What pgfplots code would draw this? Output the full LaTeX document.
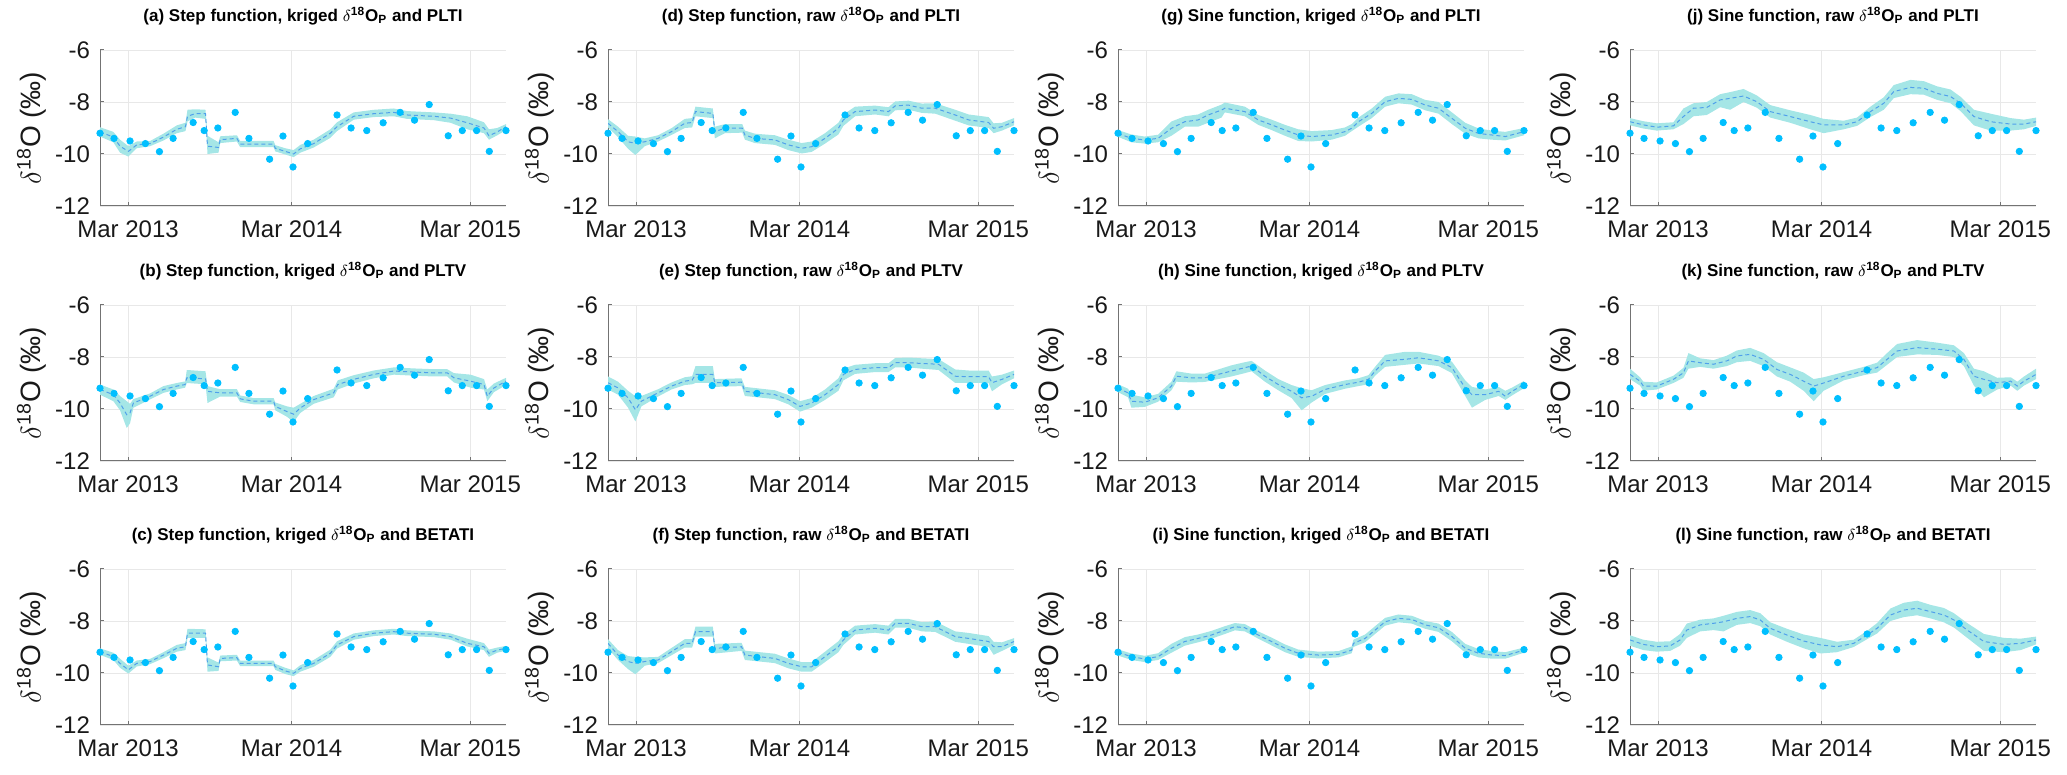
\documentclass[border=0pt]{standalone}
\usepackage{fontspec}
\setmainfont{Liberation Sans}
\usepackage{pgfplots}
\usepackage{pgfplotstable}
\pgfplotsset{compat=1.18}
\usepgfplotslibrary{fillbetween}

\definecolor{bandcyan}{RGB}{165,230,230}
\definecolor{meanblue}{RGB}{80,160,235}
\definecolor{obsblue}{RGB}{0,191,255}

% observed values, x in plot units (Mar 2013 = 84, Mar 2014 = 574, Mar 2015 = 1109)
\pgfplotstableread{
x y
0 -9.20
42 -9.40
90 -9.50
136 -9.60
178 -9.91
219 -9.40
279 -8.79
312 -9.10
353 -9.00
405 -8.40
446 -9.40
508 -10.20
548 -9.31
578 -10.50
622 -9.60
710 -8.50
752 -9.00
799 -9.10
848 -8.80
899 -8.40
942 -8.70
986 -8.10
1043 -9.30
1085 -9.10
1128 -9.10
1166 -9.90
1216 -9.10
}\obs

% model runs: mean, lower and upper band
\pgfplotstableread{
x m lo hi
0 -9.15 -9.33 -8.97
40 -9.35 -9.55 -9.15
60 -9.70 -9.95 -9.45
85 -9.90 -10.10 -9.70
110 -9.65 -9.78 -9.52
150 -9.60 -9.70 -9.50
190 -9.35 -9.48 -9.22
230 -9.05 -9.20 -8.90
256 -8.95 -9.12 -8.80
262 -8.55 -8.75 -8.30
285 -8.45 -8.60 -8.28
316 -8.45 -8.65 -8.30
322 -9.70 -10.00 -9.30
355 -9.75 -9.95 -9.55
360 -9.45 -9.58 -9.32
410 -9.40 -9.52 -9.28
420 -9.62 -9.74 -9.50
520 -9.62 -9.74 -9.50
525 -9.78 -9.90 -9.66
555 -9.90 -10.02 -9.78
580 -10.00 -10.12 -9.85
600 -9.80 -9.95 -9.65
640 -9.60 -9.75 -9.45
690 -9.20 -9.38 -9.05
710 -8.95 -9.12 -8.78
760 -8.55 -8.68 -8.40
820 -8.45 -8.58 -8.30
880 -8.40 -8.55 -8.25
920 -8.50 -8.65 -8.35
1000 -8.55 -8.70 -8.40
1050 -8.62 -8.80 -8.45
1100 -8.80 -9.05 -8.55
1150 -9.00 -9.20 -8.78
1165 -9.30 -9.45 -9.05
1190 -9.15 -9.28 -9.00
1216 -8.95 -9.08 -8.85
}\tabA

\pgfplotstableread{
x m lo hi
0 -9.25 -9.45 -9.06
40 -9.45 -9.70 -9.25
60 -9.77 -10.05 -9.50
80 -10.22 -10.73 -9.70
90 -10.15 -10.55 -9.80
100 -9.77 -9.95 -9.62
150 -9.51 -9.63 -9.40
190 -9.25 -9.38 -9.12
230 -9.12 -9.25 -9.00
255 -9.06 -9.18 -8.94
260 -8.80 -9.00 -8.50
316 -8.84 -9.05 -8.55
322 -9.32 -9.77 -9.12
360 -9.38 -9.52 -9.24
410 -9.38 -9.52 -9.24
420 -9.61 -9.73 -9.48
460 -9.70 -9.82 -9.58
520 -9.70 -9.82 -9.58
525 -9.90 -10.05 -9.75
560 -10.10 -10.30 -9.90
580 -10.20 -10.50 -9.95
600 -9.96 -10.15 -9.80
640 -9.64 -9.80 -9.50
700 -9.38 -9.55 -9.22
712 -9.06 -9.25 -8.90
760 -8.86 -9.02 -8.70
820 -8.67 -8.82 -8.52
880 -8.54 -8.68 -8.40
940 -8.58 -8.72 -8.44
1000 -8.61 -8.75 -8.47
1040 -8.61 -8.75 -8.47
1060 -8.80 -8.98 -8.62
1110 -8.93 -9.18 -8.68
1150 -9.06 -9.25 -8.85
1160 -9.51 -9.70 -9.25
1180 -9.19 -9.35 -9.02
1216 -8.93 -9.08 -8.80
}\tabB

\pgfplotstableread{
x m lo hi
0 -9.18 -9.30 -9.05
40 -9.37 -9.50 -9.22
60 -9.63 -9.80 -9.45
85 -9.88 -10.02 -9.72
110 -9.63 -9.75 -9.52
150 -9.56 -9.66 -9.46
190 -9.31 -9.43 -9.20
230 -9.05 -9.18 -8.92
256 -8.99 -9.12 -8.85
262 -8.47 -8.65 -8.30
316 -8.47 -8.65 -8.32
322 -9.69 -9.95 -9.40
355 -9.76 -9.92 -9.60
360 -9.44 -9.55 -9.33
410 -9.41 -9.52 -9.30
420 -9.63 -9.74 -9.52
520 -9.63 -9.74 -9.52
525 -9.76 -9.88 -9.65
555 -9.92 -10.04 -9.80
580 -10.01 -10.12 -9.90
600 -9.82 -9.95 -9.70
640 -9.63 -9.76 -9.50
690 -9.24 -9.38 -9.10
710 -8.92 -9.06 -8.78
760 -8.60 -8.72 -8.48
820 -8.47 -8.58 -8.36
880 -8.41 -8.52 -8.30
920 -8.47 -8.58 -8.36
1000 -8.51 -8.62 -8.40
1050 -8.60 -8.72 -8.48
1100 -8.86 -8.98 -8.68
1150 -8.99 -9.12 -8.85
1165 -9.24 -9.38 -9.10
1190 -9.12 -9.22 -9.02
1216 -9.05 -9.14 -8.96
}\tabC

\pgfplotstableread{
x m lo hi
0 -8.82 -8.98 -8.66
30 -9.14 -9.35 -8.95
60 -9.53 -9.80 -9.30
82 -9.59 -10.04 -9.33
110 -9.53 -9.70 -9.40
150 -9.40 -9.52 -9.28
190 -9.14 -9.27 -9.01
230 -8.82 -9.00 -8.65
252 -8.79 -8.98 -8.62
262 -8.37 -8.55 -8.18
314 -8.44 -8.62 -8.25
320 -9.14 -9.40 -8.95
350 -9.01 -9.20 -8.85
402 -9.01 -9.18 -8.85
410 -9.27 -9.45 -9.10
440 -9.40 -9.58 -9.22
500 -9.46 -9.65 -9.28
540 -9.65 -9.85 -9.45
580 -9.78 -9.98 -9.58
610 -9.72 -9.92 -9.52
650 -9.40 -9.60 -9.20
690 -9.01 -9.25 -8.80
705 -8.69 -8.92 -8.48
740 -8.37 -8.55 -8.18
800 -8.31 -8.48 -8.14
840 -8.37 -8.55 -8.20
860 -8.15 -8.32 -7.98
900 -8.12 -8.30 -7.95
940 -8.24 -8.42 -8.06
980 -8.24 -8.45 -8.05
1040 -8.50 -8.72 -8.30
1080 -8.69 -8.90 -8.48
1140 -8.79 -9.00 -8.58
1155 -9.01 -9.20 -8.82
1180 -8.95 -9.10 -8.80
1216 -8.76 -8.90 -8.62
}\tabD

\pgfplotstableread{
x m lo hi
0 -8.99 -9.25 -8.75
30 -9.19 -9.45 -8.95
60 -9.57 -9.95 -9.30
82 -10.03 -10.48 -9.51
100 -9.70 -9.90 -9.50
150 -9.38 -9.52 -9.24
190 -9.12 -9.25 -8.98
230 -8.93 -9.08 -8.78
252 -8.89 -9.05 -8.74
262 -8.67 -9.00 -8.35
314 -8.67 -9.00 -8.35
320 -8.99 -9.15 -8.85
400 -8.97 -9.12 -8.82
410 -9.32 -9.50 -9.15
500 -9.45 -9.62 -9.28
540 -9.64 -9.82 -9.46
575 -9.90 -10.10 -9.70
610 -9.77 -9.95 -9.58
650 -9.45 -9.65 -9.25
690 -9.06 -9.30 -8.82
705 -8.67 -8.90 -8.45
740 -8.48 -8.65 -8.30
800 -8.41 -8.58 -8.24
840 -8.41 -8.58 -8.24
860 -8.22 -8.40 -8.04
900 -8.22 -8.40 -8.02
940 -8.25 -8.45 -8.05
990 -8.28 -8.50 -8.08
1040 -8.74 -9.00 -8.48
1080 -8.76 -9.00 -8.52
1140 -8.76 -9.00 -8.52
1150 -8.99 -9.32 -8.75
1180 -8.86 -9.05 -8.68
1216 -8.67 -8.82 -8.52
}\tabE

\pgfplotstableread{
x m lo hi
0 -8.86 -9.05 -8.70
30 -9.31 -9.50 -9.12
60 -9.56 -9.85 -9.35
82 -9.63 -10.05 -9.38
110 -9.56 -9.72 -9.40
150 -9.50 -9.62 -9.38
190 -9.18 -9.32 -9.04
230 -8.86 -9.02 -8.70
252 -8.86 -9.02 -8.70
262 -8.41 -8.60 -8.22
314 -8.41 -8.60 -8.22
320 -9.05 -9.25 -8.88
400 -8.99 -9.15 -8.84
410 -9.31 -9.50 -9.14
500 -9.44 -9.62 -9.26
540 -9.63 -9.82 -9.44
580 -9.76 -9.95 -9.58
610 -9.76 -9.95 -9.58
650 -9.37 -9.58 -9.18
690 -8.99 -9.20 -8.78
705 -8.73 -8.92 -8.52
740 -8.35 -8.52 -8.18
800 -8.28 -8.45 -8.12
840 -8.35 -8.52 -8.18
860 -8.09 -8.26 -7.92
900 -8.09 -8.26 -7.92
940 -8.22 -8.40 -8.04
980 -8.22 -8.42 -8.02
1040 -8.60 -8.80 -8.40
1080 -8.67 -8.88 -8.46
1140 -8.79 -9.00 -8.58
1155 -8.99 -9.30 -8.80
1180 -8.99 -9.15 -8.82
1216 -8.79 -8.92 -8.66
}\tabF

\pgfplotstableread{
x m lo hi
0 -9.21 -9.34 -9.08
40 -9.40 -9.55 -9.25
80 -9.46 -9.60 -9.33
120 -9.40 -9.55 -9.26
160 -9.01 -9.30 -8.75
200 -8.76 -8.95 -8.55
240 -8.69 -8.95 -8.48
270 -8.50 -8.80 -8.30
310 -8.31 -8.60 -8.10
320 -8.24 -8.40 -8.02
380 -8.37 -8.55 -8.18
420 -8.69 -8.88 -8.50
460 -8.88 -9.08 -8.68
500 -9.08 -9.30 -8.88
540 -9.27 -9.50 -9.05
580 -9.33 -9.52 -9.12
640 -9.27 -9.45 -9.08
680 -9.14 -9.30 -8.98
700 -9.01 -9.12 -8.85
720 -8.76 -8.95 -8.60
760 -8.44 -8.62 -8.25
800 -7.99 -8.18 -7.80
840 -7.86 -8.05 -7.67
880 -7.90 -8.10 -7.70
920 -8.12 -8.32 -7.92
960 -8.24 -8.45 -8.00
1000 -8.63 -8.85 -8.40
1040 -9.01 -9.22 -8.80
1080 -9.21 -9.40 -9.02
1120 -9.27 -9.45 -9.10
1160 -9.33 -9.48 -9.15
1216 -9.14 -9.28 -9.00
}\tabG

\pgfplotstableread{
x m lo hi
0 -9.19 -9.35 -9.05
30 -9.38 -9.55 -9.22
40 -9.70 -9.95 -9.45
80 -9.74 -9.92 -9.55
120 -9.57 -9.72 -9.42
160 -9.12 -9.28 -8.95
175 -8.74 -8.95 -8.55
220 -8.80 -8.98 -8.64
260 -8.80 -8.96 -8.64
300 -8.67 -8.85 -8.48
340 -8.54 -8.75 -8.32
380 -8.41 -8.62 -8.20
400 -8.35 -8.55 -8.15
440 -8.74 -8.95 -8.52
480 -9.06 -9.28 -8.85
520 -9.32 -9.58 -9.08
550 -9.57 -10.05 -9.20
580 -9.51 -9.75 -9.28
620 -9.25 -9.42 -9.08
680 -9.06 -9.22 -8.90
720 -8.97 -9.12 -8.82
750 -8.86 -9.05 -8.70
770 -8.54 -8.72 -8.38
800 -8.15 -8.38 -7.92
860 -8.09 -8.30 -7.80
900 -8.03 -8.25 -7.80
960 -8.15 -8.35 -7.95
1000 -8.41 -8.62 -8.18
1040 -9.19 -9.50 -8.90
1060 -9.45 -9.95 -9.15
1100 -9.45 -9.65 -9.25
1140 -9.32 -9.50 -9.15
1160 -9.51 -9.65 -9.30
1180 -9.32 -9.48 -9.18
1216 -9.06 -9.20 -8.92
}\tabH

\pgfplotstableread{
x m lo hi
0 -9.21 -9.33 -9.09
40 -9.37 -9.50 -9.25
80 -9.46 -9.58 -9.34
120 -9.37 -9.50 -9.24
160 -9.05 -9.22 -8.88
200 -8.79 -8.95 -8.62
240 -8.67 -8.82 -8.52
280 -8.54 -8.68 -8.38
320 -8.35 -8.50 -8.20
350 -8.22 -8.36 -8.08
380 -8.26 -8.40 -8.12
420 -8.54 -8.68 -8.40
460 -8.79 -8.94 -8.64
500 -9.05 -9.20 -8.90
540 -9.24 -9.38 -9.10
600 -9.31 -9.44 -9.18
660 -9.28 -9.40 -9.16
700 -9.12 -9.24 -8.98
705 -8.86 -9.00 -8.72
740 -8.67 -8.82 -8.52
770 -8.35 -8.50 -8.20
800 -8.03 -8.18 -7.88
840 -7.90 -8.05 -7.75
880 -7.94 -8.10 -7.80
920 -8.15 -8.30 -8.00
960 -8.26 -8.42 -8.10
1000 -8.60 -8.78 -8.42
1040 -9.05 -9.22 -8.88
1080 -9.24 -9.40 -9.08
1120 -9.31 -9.45 -9.16
1160 -9.33 -9.45 -9.20
1216 -9.12 -9.22 -9.02
}\tabI

\pgfplotstableread{
x m lo hi
0 -8.76 -8.90 -8.62
40 -8.88 -9.02 -8.74
80 -8.97 -9.10 -8.82
130 -8.92 -9.05 -8.78
160 -8.56 -8.85 -8.25
190 -8.24 -8.55 -8.05
230 -8.21 -8.50 -8.00
270 -7.92 -8.20 -7.70
300 -7.86 -8.30 -7.62
340 -7.77 -8.00 -7.50
380 -7.99 -8.22 -7.75
420 -8.37 -8.60 -8.12
480 -8.56 -8.80 -8.32
540 -8.76 -9.05 -8.50
580 -8.88 -9.20 -8.65
640 -8.88 -9.05 -8.72
680 -8.76 -8.92 -8.60
720 -8.37 -8.58 -8.18
760 -8.05 -8.30 -7.82
790 -7.60 -7.85 -7.35
840 -7.44 -7.70 -7.15
880 -7.47 -7.72 -7.20
920 -7.67 -7.92 -7.40
960 -7.79 -8.05 -7.52
990 -8.05 -8.35 -7.80
1030 -8.56 -8.90 -8.30
1080 -8.76 -9.10 -8.45
1140 -8.85 -9.10 -8.62
1180 -8.85 -9.05 -8.68
1216 -8.76 -8.92 -8.60
}\tabJ

\pgfplotstableread{
x m lo hi
0 -8.67 -8.85 -8.45
30 -8.93 -9.10 -8.78
40 -9.12 -9.30 -8.95
80 -9.12 -9.25 -8.98
130 -8.86 -9.00 -8.72
160 -8.61 -8.80 -8.42
175 -8.15 -8.45 -7.85
210 -8.22 -8.38 -8.05
250 -8.28 -8.45 -8.12
290 -8.15 -8.35 -7.95
320 -7.96 -8.20 -7.75
360 -7.90 -8.15 -7.65
400 -8.09 -8.35 -7.85
440 -8.48 -8.75 -8.20
480 -8.67 -8.95 -8.40
520 -8.93 -9.30 -8.60
550 -9.12 -9.70 -8.85
580 -9.00 -9.30 -8.78
640 -8.74 -8.90 -8.58
700 -8.54 -8.70 -8.38
740 -8.41 -8.60 -8.22
770 -8.09 -8.30 -7.85
800 -7.77 -8.00 -7.50
860 -7.64 -7.90 -7.35
920 -7.70 -7.92 -7.45
970 -7.77 -8.00 -7.55
1000 -8.09 -8.35 -7.85
1030 -8.74 -9.10 -8.45
1060 -8.86 -9.55 -8.55
1100 -8.99 -9.25 -8.80
1140 -8.93 -9.10 -8.78
1160 -9.12 -9.30 -8.95
1180 -8.93 -9.10 -8.75
1216 -8.67 -8.85 -8.45
}\tabK

\pgfplotstableread{
x m lo hi
0 -8.73 -8.95 -8.55
40 -8.90 -9.12 -8.72
80 -8.99 -9.18 -8.80
120 -8.96 -9.15 -8.78
150 -8.73 -8.95 -8.50
170 -8.35 -8.65 -8.10
210 -8.15 -8.40 -7.95
250 -8.09 -8.35 -7.90
280 -8.03 -8.40 -7.80
320 -7.90 -8.15 -7.65
360 -7.83 -8.08 -7.58
390 -7.96 -8.20 -7.70
420 -8.28 -8.52 -8.05
470 -8.54 -8.80 -8.30
520 -8.77 -9.05 -8.52
570 -8.92 -9.25 -8.65
620 -8.99 -9.20 -8.80
670 -8.86 -9.00 -8.72
710 -8.54 -8.70 -8.38
740 -8.28 -8.48 -8.08
780 -7.77 -8.00 -7.52
820 -7.58 -7.85 -7.30
860 -7.51 -7.78 -7.22
900 -7.64 -7.90 -7.38
940 -7.77 -8.05 -7.50
970 -7.96 -8.25 -7.70
1010 -8.35 -8.65 -8.08
1060 -8.79 -9.15 -8.50
1120 -8.90 -9.20 -8.65
1170 -8.86 -9.12 -8.68
1216 -8.73 -8.90 -8.60
}\tabL

\pgfplotsset{
  panel/.style={
    scale only axis, width=203pt, height=78pt,
    anchor=south west,
    xmin=0, xmax=1216, ymin=-12, ymax=-6,
    axis x line*=bottom, axis y line*=left,
    axis line style={black!55, line width=0.5pt},
    xtick={84,574,1109}, xticklabels={Mar 2013,Mar 2014,Mar 2015},
    ytick={-12,-10,-8,-6}, yticklabels={-12,-10,-8,-6},
    tick align=inside, major tick length=2pt,
    tick style={black!55, line width=0.5pt},
    grid=major, major grid style={black!9, line width=0.4pt},
    ticklabel style={font=\fontsize{12}{13}\selectfont, text=black!90},
    xticklabel style={yshift=-4pt},
    yticklabel style={xshift=-1.5pt},
    ylabel={$\delta$\textsuperscript{18}O (‰)},
    ylabel style={font=\fontsize{14}{15}\selectfont, text=black!90,
      at={(axis description cs:-0.168,0.5)}, anchor=center},
    title style={font=\bfseries\fontsize{8.5}{10}\selectfont,
      at={(axis description cs:0.5,1)}, anchor=center, yshift=11pt},
  },
}

\newcommand\dO{$\delta$\textsuperscript{18}O\textsubscript{P}}

\newcommand\panelplot[4]{%
  \begin{axis}[panel, at={(#1,#2)}, title={#4}]
    \addplot[name path=hi, draw=none, forget plot] table[x=x, y=hi]{#3};
    \addplot[name path=lo, draw=none, forget plot] table[x=x, y=lo]{#3};
    \addplot[fill=bandcyan, draw=none] fill between[of=hi and lo];
    \addplot[meanblue, line width=0.5pt, dash pattern=on 2pt off 1.5pt] table[x=x, y=m]{#3};
    \addplot[only marks, mark=*, mark size=1.6pt, color=obsblue] table[x=x, y=y]{\obs};
  \end{axis}}

\begin{document}
\begin{tikzpicture}
\panelplot{50pt}{284.5pt}{\tabA}{(a) Step function, kriged \dO\ and PLTI}
\panelplot{50pt}{157pt}{\tabB}{(b) Step function, kriged \dO\ and PLTV}
\panelplot{50pt}{25pt}{\tabC}{(c) Step function, kriged \dO\ and BETATI}

\panelplot{304pt}{284.5pt}{\tabD}{(d) Step function, raw \dO\ and PLTI}
\panelplot{304pt}{157pt}{\tabE}{(e) Step function, raw \dO\ and PLTV}
\panelplot{304pt}{25pt}{\tabF}{(f) Step function, raw \dO\ and BETATI}

\panelplot{559pt}{284.5pt}{\tabG}{(g) Sine function, kriged \dO\ and PLTI}
\panelplot{559pt}{157pt}{\tabH}{(h) Sine function, kriged \dO\ and PLTV}
\panelplot{559pt}{25pt}{\tabI}{(i) Sine function, kriged \dO\ and BETATI}

\panelplot{815pt}{284.5pt}{\tabJ}{(j) Sine function, raw \dO\ and PLTI}
\panelplot{815pt}{157pt}{\tabK}{(k) Sine function, raw \dO\ and PLTV}
\panelplot{815pt}{25pt}{\tabL}{(l) Sine function, raw \dO\ and BETATI}

\pgfresetboundingbox
\useasboundingbox (0,0) rectangle (1033.5pt,387.5pt);
\end{tikzpicture}
\end{document}
